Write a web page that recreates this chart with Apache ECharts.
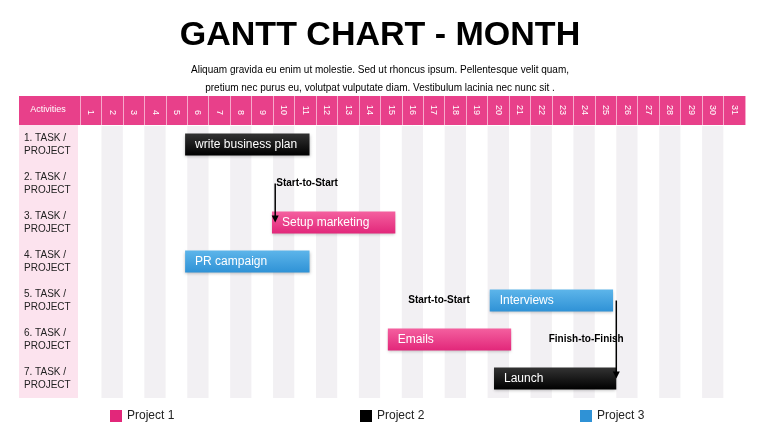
<!DOCTYPE html>
<html><head><meta charset="utf-8">
<script src="https://cdn.jsdelivr.net/npm/echarts@6/dist/echarts.min.js"></script>
<style>html,body{margin:0;padding:0;background:#fff}#c{width:760px;height:428px}</style>
</head><body><div id="c"></div>
<script>
const days = Array.from({length:31},(_,i)=>String(i+1));
const rows = ['1. TASK /\nPROJECT','2. TASK /\nPROJECT','3. TASK /\nPROJECT','4. TASK /\nPROJECT','5. TASK /\nPROJECT','6. TASK /\nPROJECT','7. TASK /\nPROJECT'];
// [rowIndex, start, end, label]
const project1 = [[2, 8.95, 14.7, 'Setup marketing'], [5, 14.35, 20.1, 'Emails']];
const project2 = [[0, 4.9, 10.7, 'write business plan'], [6, 19.3, 25.0, 'Launch']];
const project3 = [[3, 4.9, 10.7, 'PR campaign'], [4, 19.1, 24.85, 'Interviews']];
const colors = {p1:['#f4609f','#e2277a'], p2:['#333','#000'], p3:['#5db5ea','#2f92d6']};

const chart = echarts.init(document.getElementById('c'));
function grad(c){return new echarts.graphic.LinearGradient(0,0,0,1,[{offset:0,color:c[0]},{offset:1,color:c[1]}]);}
function renderBar(c){
  return function(params, api){
    const r = api.value(0), s = api.value(1), e = api.value(2);
    const p0 = api.coord([s, r]), p1 = api.coord([e, r]);
    const h = 22;
    return {type:'rect', shape:{x:p0[0], y:p0[1]-h/2, width:p1[0]-p0[0], height:h},
      style:{fill:grad(c), text: api.value(3), textFill:'#fff', textPosition:'insideLeft', textDistance:10,
        font:'bold 11px Arial, "Liberation Sans", sans-serif', shadowColor:'rgba(0,0,0,0.25)', shadowBlur:3, shadowOffsetY:1}};
  };
}
function ser(name, data, c){
  return {type:'custom', name, data, renderItem: renderBar(c), itemStyle:{color:c[1]}, encode:{x:[1,2], y:0}, z:5};
}
const option = {
  animation:false,
  title:{text:'GANTT CHART - MONTH', left:'center', top:14,
    textStyle:{fontSize:34, fontWeight:'bold', color:'#000', fontFamily:'Arial, "Liberation Sans", sans-serif'},
    subtext:'Aliquam gravida eu enim ut molestie. Sed ut rhoncus ipsum. Pellentesque velit quam,\npretium nec purus eu, volutpat vulputate diam. Vestibulum lacinia nec nunc sit .',
    subtextStyle:{fontSize:10, color:'#000', lineHeight:18, align:'center'}, itemGap:8},
  legend:[
    {data:['Project 1'], left:105, top:405, icon:'rect', itemWidth:12, itemHeight:12, textStyle:{fontSize:12,color:'#222'}},
    {data:['Project 2'], left:355, top:405, icon:'rect', itemWidth:12, itemHeight:12, textStyle:{fontSize:12,color:'#222'}},
    {data:['Project 3'], left:575, top:405, icon:'rect', itemWidth:12, itemHeight:12, textStyle:{fontSize:12,color:'#222'}}
  ],
  grid:{left:80, right:15, top:125, bottom:30},
  xAxis:[
    {type:'value', min:0, max:31, show:false},
    {type:'category', data:days, position:'top', boundaryGap:true,
      axisLine:{show:true, lineStyle:{color:'#fff'}},
      axisTick:{show:true, length:29, lineStyle:{color:'#f7a9cb'}},
      axisLabel:{rotate:90, color:'#fff', fontSize:9, margin:10},
      splitArea:{show:true, areaStyle:{color:['#ffffff','#f2f0f3']}}}
  ],
  yAxis:{type:'category', data:rows, inverse:true, axisLine:{show:false}, axisTick:{show:false},
    axisLabel:{align:'left', margin:56, color:'#222', fontSize:10, lineHeight:13}},
  graphic:[
    {type:'rect', shape:{x:19,y:96,width:726,height:29}, style:{fill:'#e8408a'}, z:-1},
    {type:'rect', shape:{x:19,y:125,width:59,height:273}, style:{fill:'#fce3ee'}, z:-1},
    {type:'text', style:{text:'Activities', x:48, y:110, fill:'#fff', fontSize:9, textAlign:'center', textVerticalAlign:'middle'}, z:10}
  ],
  series:[ser('Project 1', project1, colors.p1), ser('Project 2', project2, colors.p2), ser('Project 3', project3, colors.p3)]
};
chart.setOption(option);
// annotations in data coordinates
function px(x, r){ return chart.convertToPixel({xAxisIndex:0, yAxisIndex:0}, [x, r]); }
const notes = [[9.15, 1.4, 'Start-to-Start'], [15.3, 3.8, 'Start-to-Start'], [21.85, 5.05, 'Finish-to-Finish']];
const arrows = [[9.1, 1.45, 1.72], [25.0, 4.3, 5.7]];
const g = option.graphic.slice();
notes.forEach(n=>{ const p = px(n[0], n[1]); g.push({type:'text', z:10, style:{text:n[2], x:p[0], y:p[1], fill:'#000', font:'bold 10px Arial, "Liberation Sans", sans-serif', textVerticalAlign:'middle'}}); });
arrows.forEach(a=>{ const p0 = px(a[0], a[1]), p1 = px(a[0], a[2]);
  g.push({type:'line', z:10, shape:{x1:p0[0],y1:p0[1],x2:p1[0],y2:p1[1]-6}, style:{stroke:'#000', lineWidth:1.5}});
  g.push({type:'polygon', z:10, shape:{points:[[p1[0]-3.5,p1[1]-7],[p1[0]+3.5,p1[1]-7],[p1[0],p1[1]]]}, style:{fill:'#000'}});
});
chart.setOption({graphic:g});
</script></body></html>
